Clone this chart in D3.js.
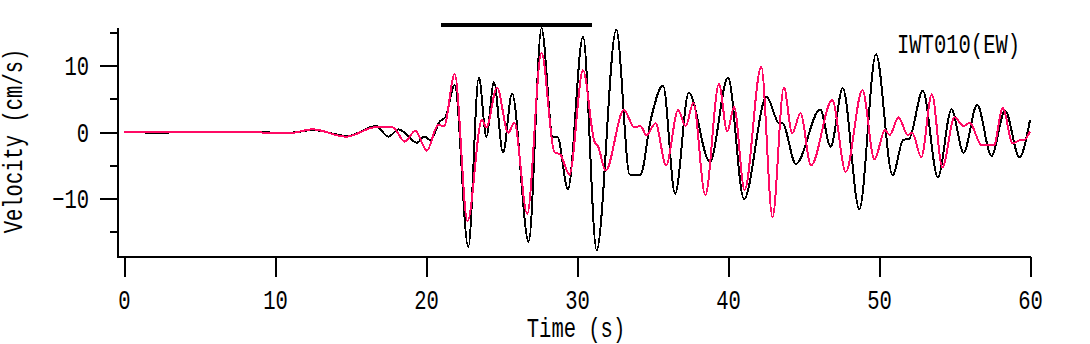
<!DOCTYPE html>
<html>
<head>
<meta charset="utf-8">
<script src="https://cdn.jsdelivr.net/npm/d3@7"></script>
<style>
  html, body { margin: 0; padding: 0; background: #fff; }
  svg { display: block; }
  text { font-family: "Liberation Mono", monospace; font-size: 27px; fill: #000; }
</style>
</head>
<body>
<svg id="chart" width="1090" height="344"></svg>
<script>
// Station / component label and axis ticks
const stationLabel = "IWT010(EW)";
const xTicks = [0, 10, 20, 30, 40, 50, 60];
const yMajorTicks = [-10, 0, 10];
const yMinorTicks = [-15, -5, 5, 15];

// Time window marked above the traces (s) and its drawing level (cm/s)
const windowStart = 21;
const windowEnd = 31;
const windowLevel = 16.1;

// Observed velocity trace (black): time (s) and velocity (cm/s)
const observedTime = [0, 1.2, 1.5, 2.8, 3.2, 9, 10, 11, 12.5, 14.8,
  16.7, 17.5, 18.2, 19.4, 19.9, 20.3, 20.9, 21.3, 21.9, 22.8,
  23.5, 24.0, 24.5, 25.1, 25.7, 26.8, 27.65, 28.4, 28.7, 29.4,
  30.4, 31.3, 32.6, 33.5, 34.2, 34.9, 35.7, 36.5, 37.4, 38.8,
  40.0, 41.06, 42.55, 43.4, 43.6, 44.5, 46.1, 46.8, 47.6, 48.7,
  49.8, 50.9, 51.6, 52.0, 52.9, 53.9, 54.8, 55.6, 56.5, 57.45,
  58.35, 59.3, 60];
const observedVel = [0, 0, -0.12, -0.12, 0, 0, -0.1, -0.1, 0.3, -0.6,
  0.9, -0.7, 0.4, -1.6, -0.7, -1.2, 1.55, 2.3, 7.1, -17.3,
  8.2, -0.7, 7.5, -3.1, 5.8, -16.5, 15.6, -0.7, -0.7, -8.6,
  14.4, -17.8, 15.4, -6.4, -6.4, 2.0, 7.0, -9.3, 5.9, -4.5,
  8.2, -10.1, 5.3, 1.3, 1.3, -4.8, 3.4, -2.2, 6.6, -11.6,
  11.7, -6.5, -1.2, -1.0, 6.2, -6.8, 3.4, -3.1, 4.1, -3.6,
  3.2, -3.8, 1.8];

// Synthetic velocity trace (pink): time (s) and velocity (cm/s)
const syntheticTime = [0, 8.8, 9.5, 11, 12.5, 14.7, 16.7, 17.8, 18.6, 19.3,
  20.05, 20.8, 21.2, 21.9, 22.75, 23.7, 24.0, 24.7, 25.45, 25.85,
  26.7, 27.65, 28.5, 28.9, 29.5, 30.4, 31.15, 31.4, 31.9, 33.1,
  33.8, 34.2, 34.6, 35.2, 35.9, 36.7, 37.2, 37.7, 38.5, 39.4,
  39.95, 40.4, 41.1, 42.2, 42.95, 43.7, 44.25, 44.8, 45.5, 46.9,
  47.8, 48.9, 49.7, 50.4, 50.7, 51.3, 51.9, 52.2, 52.8, 53.5,
  54.2, 55.0, 55.6, 56.0, 56.8, 57.6, 58.2, 58.85, 59.4, 59.6,
  60];
const syntheticVel = [0, 0, -0.15, -0.15, 0.4, -0.7, 0.75, 0.7, -1.45, 0.2,
  -2.8, 1.05, 0.9, 8.7, -13.4, 1.8, 0.7, 6.7, -0.1, 1.4,
  -12.3, 11.9, -3.0, -3.4, -6.4, 9.3, -1.4, -2.2, -5.8, 3.3,
  0.7, 0.9, -0.45, 1.3, -5.0, 3.3, 0.9, 4.4, -9.5, 7.2,
  0.05, 3.8, -8.7, 9.8, -12.8, 6.7, -0.2, 2.8, -5.0, 4.8,
  -6.0, 6.3, -4.1, 0.3, -0.45, 2.2, -0.45, -0.1, -3.8, 5.7,
  -5.3, 2.2, 0.9, 1.4, -2.0, -2.0, 3.6, -1.7, -1.2, -1.2,
  0.1];

const observed = observedTime.map((t, i) => ({ t, v: observedVel[i] }));
const synthetic = syntheticTime.map((t, i) => ({ t, v: syntheticVel[i] }));

const svg = d3.select("#chart");
const textScale = 0.76; // narrow monospaced lettering
const fontFamily = "'Liberation Mono', monospace";
const fontSize = "27px";

const x = d3.scaleLinear().domain([0, 60]).range([124, 1030]);
const y = d3.scaleLinear().domain([-18.8, 15.65]).range([257, 28]);
const yAxisX = 118;
const xAxisY = 257;

// Frame lines: vertical axis and horizontal time axis
svg.append("line")
  .attr("x1", yAxisX).attr("x2", yAxisX)
  .attr("y1", y.range()[1]).attr("y2", xAxisY)
  .attr("stroke", "#000").attr("stroke-width", 2).attr("shape-rendering", "crispEdges");
svg.append("line")
  .attr("x1", yAxisX - 1).attr("x2", x(60) + 1)
  .attr("y1", xAxisY).attr("y2", xAxisY)
  .attr("stroke", "#000").attr("stroke-width", 2).attr("shape-rendering", "crispEdges");

// Time axis ticks and labels
const gx = svg.append("g")
  .attr("transform", `translate(0,${xAxisY})`)
  .call(d3.axisBottom(x).tickValues(xTicks).tickSize(20).tickSizeOuter(0).tickFormat(d3.format("d")));
gx.select(".domain").remove();
gx.selectAll(".tick line").attr("stroke-width", 2).attr("shape-rendering", "crispEdges");
gx.selectAll(".tick text")
  .attr("y", 52).attr("dy", 0)
  .attr("transform", `scale(${textScale},1)`)
  .style("font-family", fontFamily).style("font-size", fontSize);

// Velocity axis: major ticks with labels, minor ticks without
const gyMajor = svg.append("g")
  .attr("transform", `translate(${yAxisX},0)`)
  .call(d3.axisLeft(y).tickValues(yMajorTicks).tickSize(18).tickSizeOuter(0).tickFormat(d3.format("d")));
gyMajor.select(".domain").remove();
gyMajor.selectAll(".tick line").attr("stroke-width", 2).attr("shape-rendering", "crispEdges");
gyMajor.selectAll(".tick text")
  .attr("x", -29 / textScale).attr("dy", 9)
  .attr("transform", `scale(${textScale},1)`)
  .style("font-family", fontFamily).style("font-size", fontSize);

const gyMinor = svg.append("g")
  .attr("transform", `translate(${yAxisX},0)`)
  .call(d3.axisLeft(y).tickValues(yMinorTicks).tickSize(8).tickSizeOuter(0).tickFormat(""));
gyMinor.select(".domain").remove();
gyMinor.selectAll(".tick line").attr("stroke-width", 2).attr("shape-rendering", "crispEdges");

// Axis titles
svg.append("text")
  .attr("transform", `translate(576,337) scale(${textScale},1)`)
  .attr("text-anchor", "middle")
  .text("Time (s)");
svg.append("text")
  .attr("transform", `translate(22,141) rotate(-90) scale(${textScale},1)`)
  .attr("text-anchor", "middle")
  .text("Velocity (cm/s)");

// Station label
svg.append("text")
  .attr("transform", `translate(897,53) scale(${textScale},1)`)
  .attr("text-anchor", "start")
  .text(stationLabel);

// Waveforms
const line = d3.line()
  .x(d => x(d.t))
  .y(d => y(d.v))
  .curve(d3.curveMonotoneX);

svg.append("path")
  .datum(observed)
  .attr("d", line)
  .attr("fill", "none")
  .attr("stroke", "#000")
  .attr("stroke-width", 2)
  .attr("shape-rendering", "crispEdges");

svg.append("path")
  .datum(synthetic)
  .attr("d", line)
  .attr("fill", "none")
  .attr("stroke", "#ff0a64")
  .attr("stroke-width", 2)
  .attr("shape-rendering", "crispEdges");

// Analysis window bar
svg.append("line")
  .attr("x1", x(windowStart)).attr("x2", x(windowEnd))
  .attr("y1", y(windowLevel)).attr("y2", y(windowLevel))
  .attr("stroke", "#000").attr("stroke-width", 4)
  .attr("shape-rendering", "crispEdges");
</script>
</body>
</html>
